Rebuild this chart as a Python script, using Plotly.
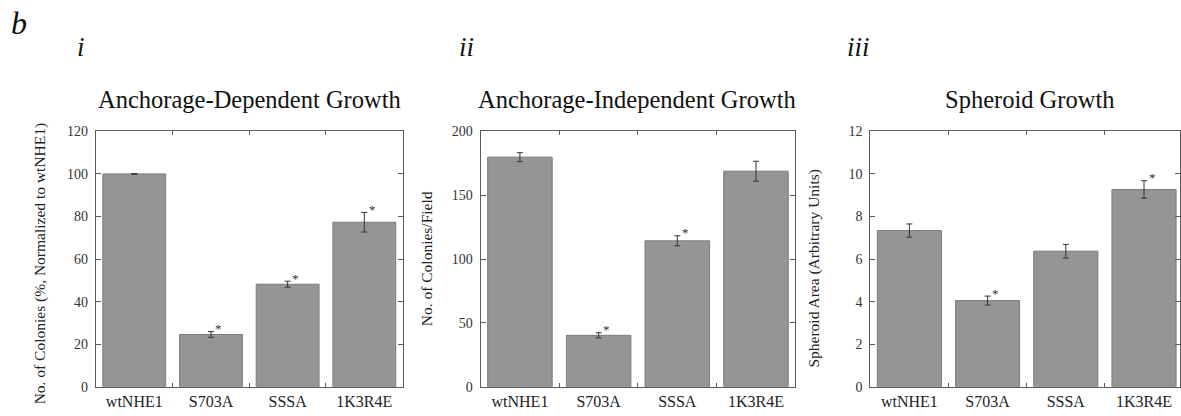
import plotly.graph_objects as go

categories = ["wtNHE1", "S703A", "SSSA", "1K3R4E"]

dep_values = [100.0, 24.6, 48.2, 77.3]
dep_errors = [0.15, 1.35, 1.4, 4.6]
dep_sig = [False, True, True, True]

indep_values = [179.8, 40.3, 114.3, 168.8]
indep_errors = [3.5, 2.0, 3.9, 7.8]
indep_sig = [False, True, True, False]

sph_values = [7.34, 4.05, 6.37, 9.27]
sph_errors = [0.31, 0.21, 0.32, 0.41]
sph_sig = [False, True, False, True]

panel_titles = ["Anchorage-Dependent Growth", "Anchorage-Independent Growth", "Spheroid Growth"]
y_titles = ["No. of Colonies (%, Normalized to wtNHE1)", "No. of Colonies/Field",
            "Spheroid Area (Arbitrary Units)"]
panel_labels = ["i", "ii", "iii"]
y_ranges = [(0, 120), (0, 200), (0, 12)]
y_dticks = [20, 50, 2]
x_ranges = [(-0.5, 3.5), (-0.5, 3.5), (-0.5, 3.46)]

W, H = 1181, 416
FONT = "Liberation Serif"
BAR = "#959595"
BAR_EDGE = "#7c7c7c"
AX = "#5a5a5a"

def px_x(p):
    return p / W

def px_y(p):
    return 1 - p / H

x_doms = [(96, 403), (481, 796), (871, 1181)]
y_dom = [px_y(394), px_y(129)]

fig = go.Figure()
series = [(dep_values, dep_errors, dep_sig), (indep_values, indep_errors, indep_sig),
          (sph_values, sph_errors, sph_sig)]

annotations = []
for i, (vals, errs, sig) in enumerate(series):
    xa = "x" if i == 0 else f"x{i+1}"
    ya = "y" if i == 0 else f"y{i+1}"
    fig.add_trace(go.Bar(
        x=categories, y=vals, xaxis=xa, yaxis=ya, width=0.82,
        marker=dict(color=BAR, line=dict(color=BAR_EDGE, width=1)),
        error_y=dict(type="data", array=errs, visible=True, color="#333333",
                     thickness=1, width=3),
        showlegend=False, hoverinfo="skip",
    ))
    for c, v, e, s in zip(categories, vals, errs, sig):
        if s:
            annotations.append(dict(
                x=c, y=v + e, xref=xa, yref=ya, text="*", showarrow=False,
                xanchor="center", yanchor="middle", xshift=8, yshift=3,
                font=dict(family=FONT, size=13, color="#333333"),
            ))
    lay_x = dict(
        domain=[px_x(x_doms[i][0]), px_x(x_doms[i][1])], anchor=ya,
        type="category", range=list(x_ranges[i]), tickson="boundaries",
        ticks="inside", ticklen=4, tickcolor=AX, tickwidth=1,
        showline=True, linecolor=AX, linewidth=1, mirror="ticks",
        showgrid=False, zeroline=False,
        tickfont=dict(family=FONT, size=16, color="#222222"),
        fixedrange=True,
    )
    lay_y = dict(
        domain=y_dom, anchor=xa, range=list(y_ranges[i]), dtick=y_dticks[i], tick0=0,
        ticks="inside", ticklen=5, tickcolor=AX, tickwidth=1,
        showline=True, linecolor=AX, linewidth=1, mirror="ticks",
        showgrid=False, zeroline=False, ticklabelstandoff=4,
        tickfont=dict(family=FONT, size=14, color="#333333"),
        fixedrange=True,
    )
    fig.layout["xaxis" if i == 0 else f"xaxis{i+1}"] = lay_x
    fig.layout["yaxis" if i == 0 else f"yaxis{i+1}"] = lay_y

title_cx = [250, 638, 1030]
for t, cx in zip(panel_titles, title_cx):
    annotations.append(dict(
        x=px_x(cx), y=px_y(96), xref="paper", yref="paper", text=t,
        showarrow=False, xanchor="center", yanchor="middle",
        font=dict(family=FONT, size=24.5, color="#111111"),
    ))

ytitle_pos = [(40, 266), (427, 261), (815, 271)]
for t, (xp, yp) in zip(y_titles, ytitle_pos):
    annotations.append(dict(
        x=px_x(xp), y=px_y(yp), xref="paper", yref="paper", text=t, textangle=-90,
        showarrow=False, xanchor="center", yanchor="middle",
        font=dict(family=FONT, size=15.5, color="#222222"),
    ))

label_pos = [(81, 42), (467, 41), (859, 41)]
for t, (xp, yp) in zip(panel_labels, label_pos):
    annotations.append(dict(
        x=px_x(xp), y=px_y(yp), xref="paper", yref="paper", text=f"<i>{t}</i>",
        showarrow=False, xanchor="center", yanchor="middle",
        font=dict(family=FONT, size=27, color="#111111"),
    ))
annotations.append(dict(
    x=px_x(19), y=px_y(17), xref="paper", yref="paper", text="<i>b</i>",
    showarrow=False, xanchor="center", yanchor="middle",
    font=dict(family=FONT, size=32, color="#111111"),
))

fig.update_layout(
    width=W, height=H, margin=dict(l=0, r=0, t=0, b=0),
    paper_bgcolor="white", plot_bgcolor="white",
    annotations=annotations, bargap=0.18,
)

fig.write_html("out.html", config={"displayModeBar": False},
               post_script="document.body.style.margin='0';document.body.style.overflow='hidden';")
